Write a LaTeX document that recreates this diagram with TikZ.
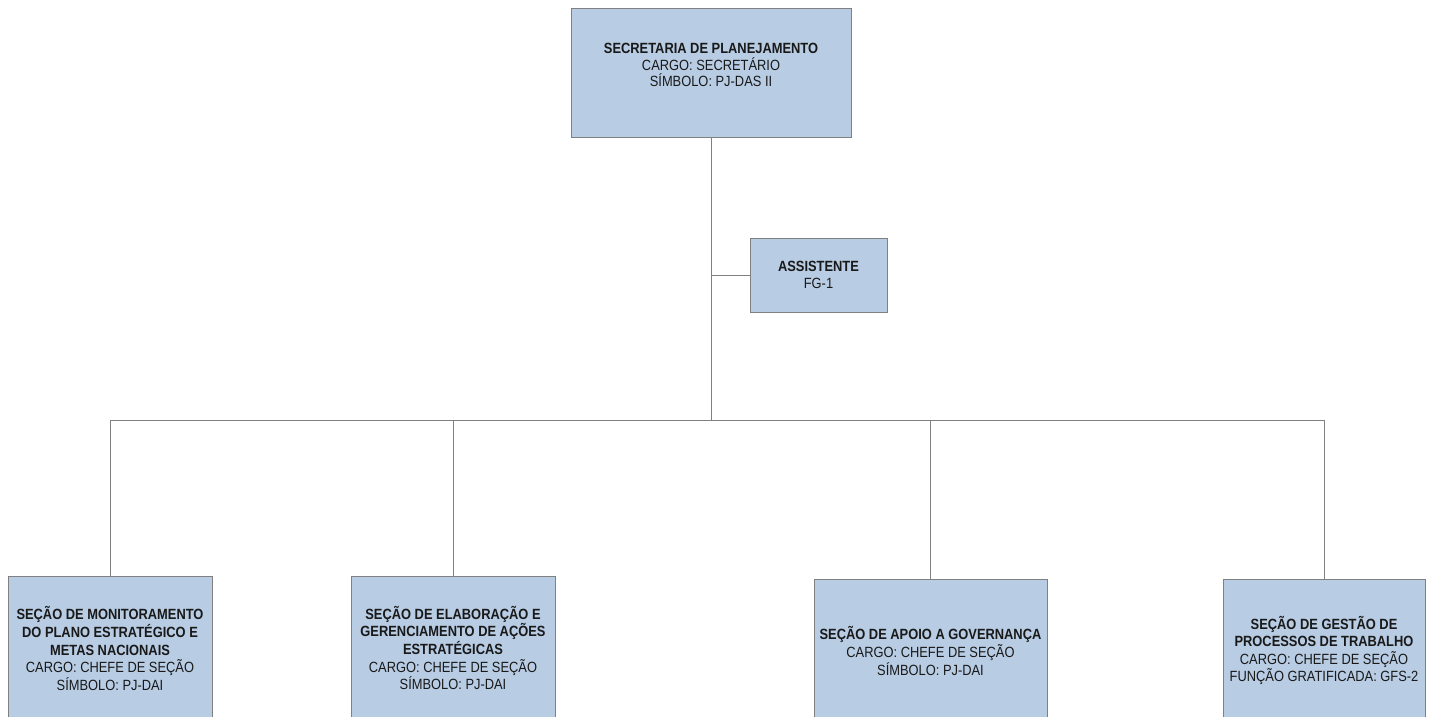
\documentclass[tikz,border=0pt]{standalone}
\usepackage{fontspec}
\setmainfont{Liberation Sans}[FakeStretch=0.87]
\definecolor{boxfill}{RGB}{184,204,228}
\definecolor{edge}{RGB}{128,128,128}
\begin{document}
\begin{tikzpicture}[x=1pt,y=-1pt,
  orgbox/.style={draw=edge, fill=boxfill, line width=1pt, inner sep=0pt},
  orgtext/.style={align=center, inner sep=0pt, text=black!90, font=\fontsize{14.8}{17.6}\selectfont},
  link/.style={draw=edge, line width=1pt}]
  \useasboundingbox (0,0) rectangle (1434,717);
  \clip (0,0) rectangle (1434,717);

  % top unit
  \node[orgbox, minimum width=280pt, minimum height=128pt] (top) at (711,73) {};
  \node[orgtext, font=\fontsize{14.8}{16.7}\selectfont] (topt) at (711,65)
    {\textbf{SECRETARIA DE PLANEJAMENTO}\\CARGO: SECRETÁRIO\\SÍMBOLO: PJ-DAS II};

  % assistant
  \node[orgbox, minimum width=137pt, minimum height=74pt] (asst) at (818.5,275) {};
  \node[orgtext, font=\fontsize{14.8}{16.5}\selectfont] (asstt) at (818.5,275)
    {\textbf{ASSISTENTE}\\FG-1};

  % sections
  \node[orgbox, minimum width=204pt, minimum height=148pt] (s1) at (110,650) {};
  \node[orgtext] (s1t) at (110,648.5)
    {\textbf{SEÇÃO DE MONITORAMENTO}\\\textbf{DO PLANO ESTRATÉGICO E}\\\textbf{METAS NACIONAIS}\\CARGO: CHEFE DE SEÇÃO\\SÍMBOLO: PJ-DAI};

  \node[orgbox, minimum width=204pt, minimum height=148pt] (s2) at (453,650) {};
  \node[orgtext] (s2t) at (453,648)
    {\textbf{SEÇÃO DE ELABORAÇÃO E}\\\textbf{GERENCIAMENTO DE AÇÕES}\\\textbf{ESTRATÉGICAS}\\CARGO: CHEFE DE SEÇÃO\\SÍMBOLO: PJ-DAI};

  \node[orgbox, minimum width=233pt, minimum height=148pt] (s3) at (930.5,653) {};
  \node[orgtext] (s3t) at (930.5,651)
    {\textbf{SEÇÃO DE APOIO A GOVERNANÇA}\\CARGO: CHEFE DE SEÇÃO\\SÍMBOLO: PJ-DAI};

  \node[orgbox, minimum width=202pt, minimum height=148pt] (s4) at (1324,653) {};
  \node[orgtext] (s4t) at (1324,650.5)
    {\textbf{SEÇÃO DE GESTÃO DE}\\\textbf{PROCESSOS DE TRABALHO}\\CARGO: CHEFE DE SEÇÃO\\FUNÇÃO GRATIFICADA: GFS-2};

  % connectors
  \coordinate (bus) at (711,420);
  \draw[link] (top.south) -- (bus);
  \draw[link] (asst.west) -- (asst.west -| top.south);
  \draw[link] (s1.north) |- (bus);
  \draw[link] (s2.north) |- (bus);
  \draw[link] (s3.north -| 930,0) |- (bus);
  \draw[link] (s4.north) |- (bus);
\end{tikzpicture}
\end{document}
